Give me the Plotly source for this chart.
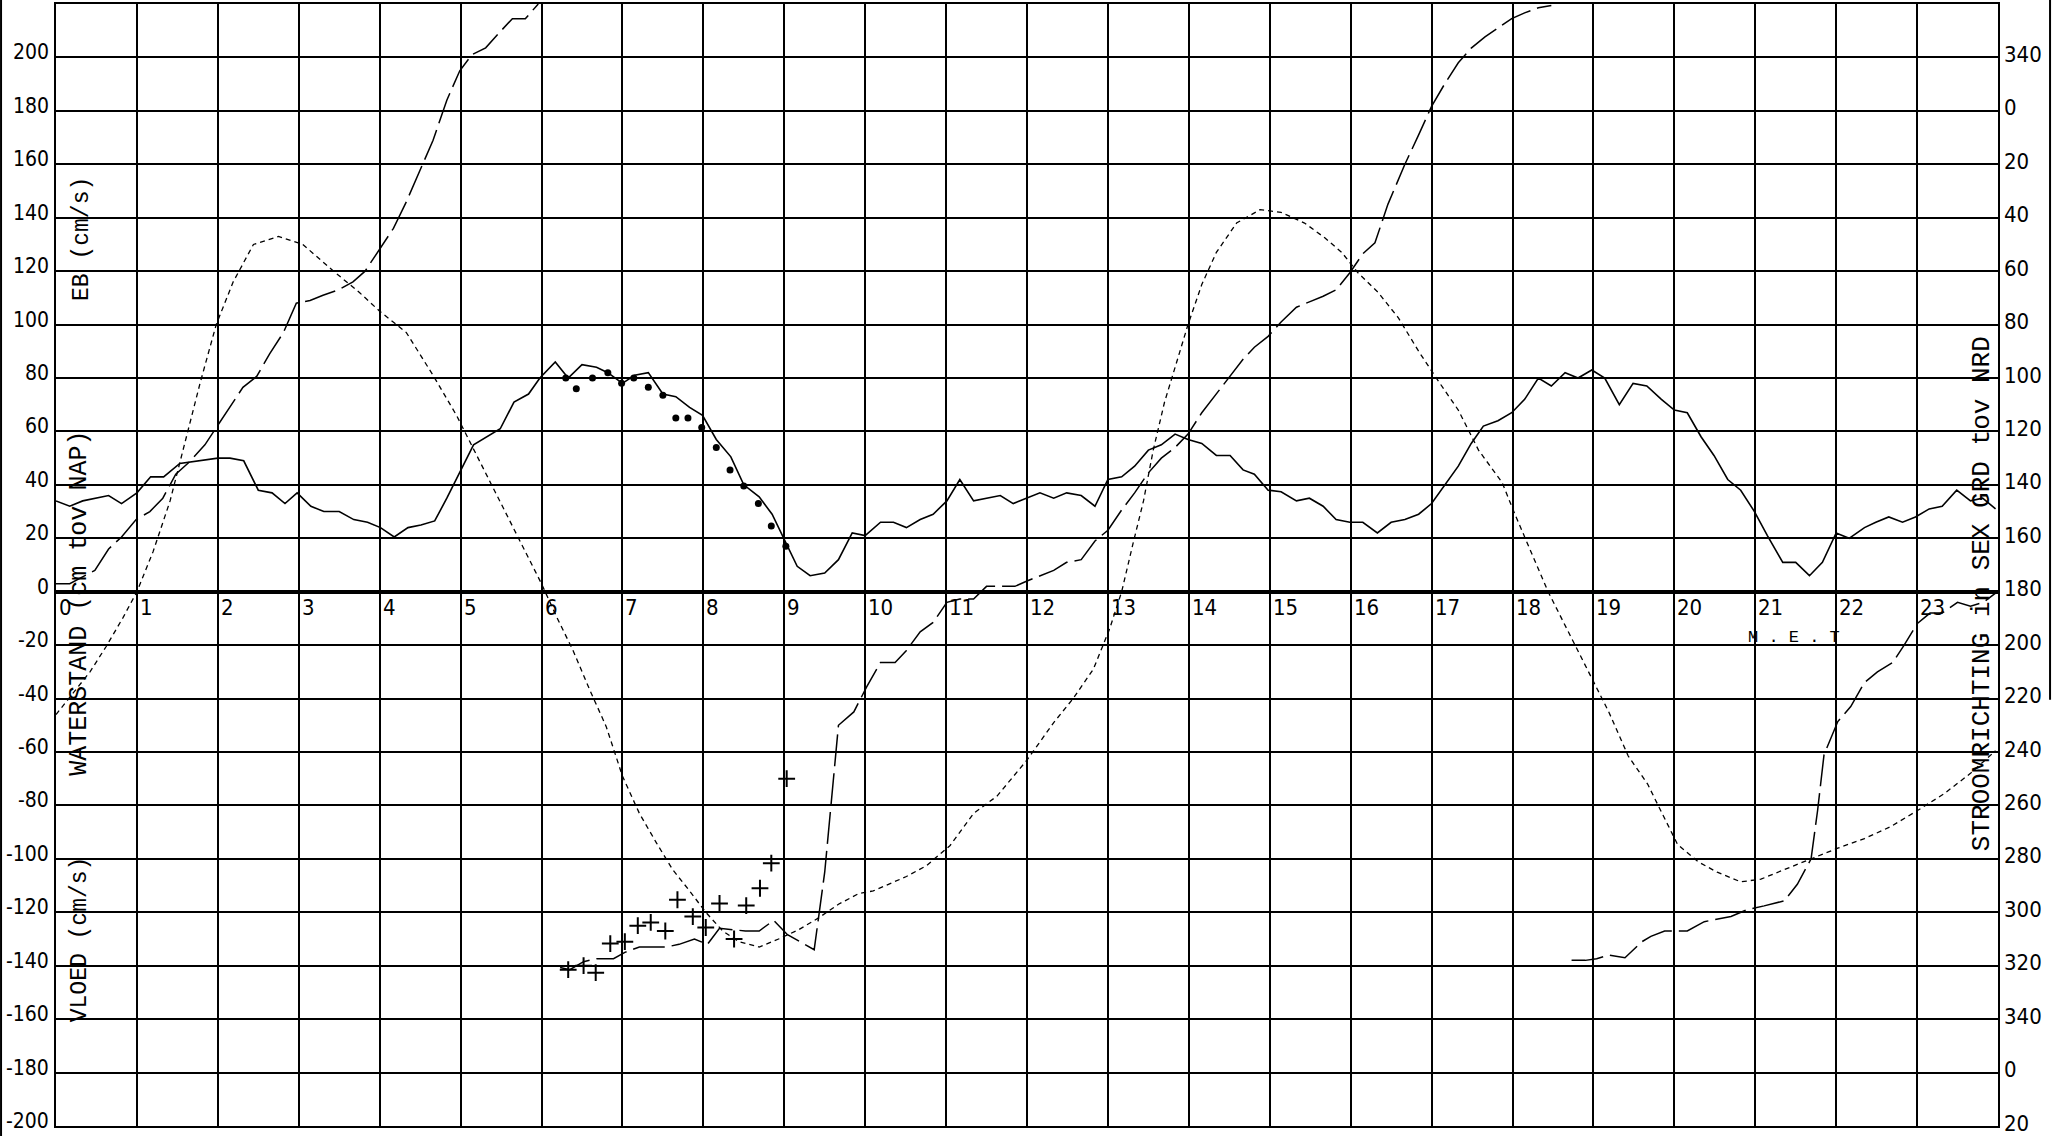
import plotly.graph_objects as go

# Waterstand (cm tov NAP), solid line
WATER_T = [0.0, 0.17, 0.33, 0.65, 0.81, 1.0, 1.17, 1.33, 1.53, 1.74, 2.0, 2.15, 2.32, 2.5, 2.67,
           2.83, 2.98, 3.15, 3.31, 3.5, 3.68, 3.85, 4.01, 4.18, 4.35, 4.51, 4.68, 4.83, 5.0, 5.16,
           5.49, 5.66, 5.84, 5.98, 6.17, 6.33, 6.5, 6.68, 6.82, 7.0, 7.15, 7.32, 7.5, 7.66, 7.83,
           7.99, 8.16, 8.34, 8.5, 8.69, 8.85, 9.02, 9.16, 9.32, 9.5, 9.67, 9.84, 10.0, 10.19, 10.35,
           10.51, 10.68, 10.84, 11.01, 11.17, 11.34, 11.5, 11.67, 11.83, 12.0, 12.16, 12.33, 12.49,
           12.67, 12.84, 13.0, 13.17, 13.33, 13.5, 13.66, 13.83, 13.99, 14.16, 14.34, 14.51, 14.67,
           14.81, 14.98, 15.14, 15.33, 15.49, 15.66, 15.82, 15.99, 16.15, 16.33, 16.5, 16.67, 16.84,
           17.0, 17.16, 17.33, 17.49, 17.64, 17.82, 17.99, 18.15, 18.32, 18.48, 18.65, 18.81, 18.98,
           19.14, 19.32, 19.49, 19.66, 19.84, 20.0, 20.16, 20.33, 20.49, 20.66, 20.82, 20.99, 21.15,
           21.34, 21.5, 21.67, 21.83, 22.0, 22.16, 22.35, 22.49, 22.65, 22.82, 22.98, 23.15, 23.31,
           23.49, 23.66, 23.81, 23.97]
WATER_V = [34, 32, 34, 36, 33, 37, 43, 43, 48, 49, 50, 50, 49, 38, 37,
           33, 37, 32, 30, 30, 27, 26, 24, 20.5, 24, 25, 26.5, 35, 45, 55,
           61, 71, 74, 80, 86, 80, 85, 84, 82, 78, 81, 82, 74, 73, 69,
           66, 57, 50.5, 40, 35.5, 29, 18, 9.5, 6, 7, 12, 22, 21, 26, 26,
           24, 27, 29, 34, 42, 34, 35, 36, 33, 35, 37, 35, 37,
           36, 32, 42, 43, 47, 53, 55, 59, 57, 55.5, 51, 51, 45.6,
           44, 38, 37.4, 34, 35, 32, 27, 26, 26, 22, 26, 27, 29,
           33, 40, 47, 55.5, 62, 64, 67, 72, 80, 77, 82, 80, 83,
           80, 70, 78, 77, 72, 68, 67, 58, 51, 42, 38, 30, 21,
           11, 11, 6, 11, 22, 20, 24, 26, 28, 26, 28, 31, 32,
           38, 34, 35, 31]

# Stroomsnelheid (EB positief, VLOED negatief), short-dashed line
VEL_T = [0.0, 0.21, 0.42, 0.62, 0.83, 1.0, 1.2, 1.41, 1.57, 1.78, 1.98, 2.19, 2.44, 2.75, 3.05,
         3.43, 3.75, 4.0, 4.33, 4.66, 4.95, 5.25, 5.49, 5.74, 6.0, 6.19, 6.39, 6.6, 6.8, 7.0,
         7.21, 7.42, 7.62, 7.83, 8.03, 8.24, 8.44, 8.69, 8.93, 9.18, 9.43, 9.67, 9.92, 10.1,
         10.51, 10.76, 11.05, 11.34, 11.63, 12.0, 12.33, 12.57, 12.82, 13.02, 13.17, 13.31,
         13.44, 13.56, 13.7, 13.85, 13.99, 14.16, 14.34, 14.59, 14.88, 15.14, 15.43, 15.68,
         15.89, 16.09, 16.34, 16.59, 16.84, 17.08, 17.33, 17.58, 17.87, 18.03, 18.24, 18.44,
         18.69, 18.94, 19.19, 19.43, 19.67, 19.8, 20.04, 20.29, 20.53, 20.82, 21.07, 21.36,
         21.69, 22.02, 22.35, 22.67, 23.0, 23.33, 23.66, 23.97]
VEL_V = [-46, -38, -30, -20.5, -9.6, 0, 15, 34, 53, 78, 100, 116, 130, 133, 130,
         120, 112, 105, 97, 81, 66, 48, 34, 19, 3, -9.6, -22, -37, -50.5, -69,
         -83, -94, -104, -112, -120, -127, -131, -133, -130, -126.5, -122, -117, -113, -112,
         -106.6, -102.5, -95, -83, -76.5, -63, -49, -40, -29, -14, 0, 18,
         34, 53, 71, 86, 100, 115, 127, 138, 143, 142, 138, 132.5,
         127, 119.4, 112, 102.5, 90, 79, 68, 53, 41, 29, 14, 0,
         -15, -30, -45, -61.5, -72, -80, -94.6, -101, -105, -108.6, -107.6, -104,
         -100, -96, -92.4, -88, -82, -75.7, -68, -59.5]

# Stroomrichting (graden tov noord) on the wrapped right-hand scale, None = wrap
DIR_T = [0.0, 0.17, 0.48, 0.65, 0.81, 0.99, 1.16, 1.32, 1.48, 1.65, 1.84, 1.98, 2.15, 2.31, 2.48,
         2.64, 2.81, 2.97, 3.14, 3.3, 3.49, 3.67, 3.82, 4.0, 4.17, 4.33, 4.5, 4.66, 4.83, 4.99,
         5.14, 5.31, 5.47, 5.64, 5.8, 5.96, 6.1,
         6.23, 6.35, 6.52, 6.68, 6.89, 7.03, 7.21, 7.38, 7.54, 7.7, 7.89, 8.05, 8.2, 8.36, 8.52,
         8.69, 8.87, 9.04, 9.2, 9.37, 9.5, 9.67, 9.86, 10.02, 10.19, 10.37, 10.51, 10.68, 10.84,
         11.01, 11.17, 11.34, 11.5, 11.67, 11.85, 12.0, 12.16, 12.33, 12.49, 12.67, 12.84, 13.0,
         13.17, 13.33, 13.5, 13.66, 13.83, 13.99, 14.16, 14.34, 14.51, 14.67, 14.81, 14.98, 15.14,
         15.33, 15.49, 15.66, 15.82, 15.99, 16.15, 16.3, 16.46, 16.67, 16.84, 17.0, 17.16, 17.33,
         17.49, 17.66, 17.82, 17.99, 18.15, 18.32, 18.48, 18.6,
         18.73, 18.9, 19.04, 19.19, 19.39, 19.6, 19.71, 19.88, 20.16, 20.37, 20.7, 20.9, 21.11,
         21.36, 21.52, 21.69, 21.77, 21.85, 22.02, 22.18, 22.35, 22.51, 22.7, 22.84, 23.0, 23.16,
         23.31, 23.5, 23.66, 23.82, 23.97]
DIR_V = [177, 177, 172, 164, 159.5, 153, 150, 145, 136, 131.4, 125, 118.5, 111, 103.5, 99.4,
         91, 83, 72, 71, 69, 67, 64, 60, 52, 44, 34, 22, 11, -4, -15,
         -21, -23.6, -29, -34.5, -34.5, -40, None,
         320.7, 321.5, 318.5, 317.4, 317.4, 315, 313, 313, 313, 312, 310, 312, 306, 306.5, 307,
         307, 303, 308.4, 311, 314, 285, 230, 225, 215.5, 206.5, 206.5, 202, 195, 191.5,
         184, 182.7, 182.7, 178, 178, 178, 176, 174, 172, 169, 168, 161, 157,
         149.4, 143, 135.5, 130, 126, 121, 113, 106, 99.4, 93, 88.5, 84.4, 79,
         73.5, 71.5, 69.4, 67, 60.6, 53.5, 49.4, 35, 20, 9, -1.7, -10, -18,
         -23.5, -27.7, -31, -34.5, -36.7, -38.6, -39.4, None,
         318, 318, 317.4, 316, 317, 311, 309, 307, 307, 303.5, 301.6, 299, 297.6,
         295.7, 289.5, 280, 262, 241, 228.6, 223, 214, 210, 206.5, 200, 192, 188,
         188, 184, 185.4, 184, 180.5]

# Gemeten punten
DOT_T = [6.3, 6.43, 6.63, 6.82, 6.99, 7.14, 7.32, 7.5, 7.66, 7.81, 7.98, 8.16, 8.33, 8.5, 8.68,
         8.84, 9.02]
DOT_V = [80, 76, 80, 82, 78, 80, 76.5, 73.5, 65, 65, 61.5, 54, 45.6, 39.6, 33, 24.6, 17]
PLUS_T = [6.33, 6.52, 6.67, 6.85, 7.03, 7.19, 7.35, 7.53, 7.68, 7.87, 8.03, 8.2, 8.38, 8.53,
          8.7, 8.84, 9.03]
PLUS_V = [-141.5, -140, -142.6, -131.7, -131, -125, -123.8, -127, -115.3, -121.6, -125.7,
          -116.7, -130, -117.5, -111, -101.6, -70]

HOURS = list(range(24))
LEFT_TICKS = list(range(-200, 201, 20))
RIGHT_TICKS = list(range(-20, 381, 20))
RIGHT_TEXT = [str(v % 360) for v in RIGHT_TICKS]

NUM_FONT = "Liberation Sans Narrow, DejaVu Sans Condensed, Arial Narrow, sans-serif"
TXT_FONT = "Liberation Mono, DejaVu Sans Mono, monospace"

fig = go.Figure()

fig.add_trace(go.Scatter(x=WATER_T, y=WATER_V, mode="lines",
                         line=dict(color="black", width=1.6), name="Waterstand"))
fig.add_trace(go.Scatter(x=VEL_T, y=VEL_V, mode="lines",
                         line=dict(color="black", width=1.3, dash="5px,4px"), name="Snelheid"))
fig.add_trace(go.Scatter(x=DIR_T, y=DIR_V, mode="lines", yaxis="y2", connectgaps=False,
                         line=dict(color="black", width=1.5, dash="32px,7px"), name="Richting"))
fig.add_trace(go.Scatter(x=DOT_T, y=DOT_V, mode="markers",
                         marker=dict(symbol="circle", size=7, color="black"), name="gemeten"))
fig.add_trace(go.Scatter(x=PLUS_T, y=PLUS_V, mode="markers",
                         marker=dict(symbol="cross-thin", size=12,
                                     line=dict(color="black", width=2)), name="gemeten"))

# Hour labels inside the plot, just under the zero line
annotations = [dict(x=h, y=0, text=str(h), showarrow=False, xanchor="left", yanchor="top",
                    xshift=1, yshift=-1, font=dict(family=NUM_FONT, size=22, color="black"))
               for h in HOURS]

# Left scale labels, sitting just above their grid lines
annotations += [dict(x=0, xref="paper", y=v, text=str(v), showarrow=False,
                     xanchor="right", yanchor="middle", xshift=-5, yshift=5,
                     font=dict(family=NUM_FONT, size=21, color="black"))
                for v in LEFT_TICKS]

# Right scale labels (stroomrichting, wraps at 360)
annotations += [dict(x=1, xref="paper", y=v, yref="y2", text=t, showarrow=False,
                     xanchor="left", yanchor="middle", xshift=4, yshift=3,
                     font=dict(family=NUM_FONT, size=22, color="black"))
                for v, t in zip(RIGHT_TICKS, RIGHT_TEXT)]

annotations += [
    dict(x=21.48, y=-17, text="M . E . T", showarrow=False,
         font=dict(family=TXT_FONT, size=17, color="black")),
    dict(x=0.29, y=-4.3, text="WATERSTAND (cm tov NAP)", textangle=-90, showarrow=False,
         font=dict(family=TXT_FONT, size=25, color="black")),
    dict(x=0.32, y=132, text="EB (cm/s)", textangle=-90, showarrow=False,
         font=dict(family=TXT_FONT, size=23, color="black")),
    dict(x=0.30, y=-130, text="VLOED (cm/s)", textangle=-90, showarrow=False,
         font=dict(family=TXT_FONT, size=23, color="black")),
    dict(x=23.8, y=-0.6, text="STROOMRICHTING in SEX GRD tov NRD", textangle=-90,
         showarrow=False, font=dict(family=TXT_FONT, size=26, color="black")),
]

# Edges of the scanned sheet
shapes = [
    dict(type="line", xref="paper", yref="paper", x0=-0.0283, x1=-0.0283, y0=-0.01, y1=1.01,
         line=dict(color="black", width=2)),
    dict(type="line", xref="paper", yref="paper", x0=1.0268, x1=1.0268, y0=0.38, y1=1.01,
         line=dict(color="black", width=2)),
]

fig.update_layout(
    width=2055, height=1136,
    margin=dict(l=56, r=57, t=4, b=10, autoexpand=False),
    paper_bgcolor="white", plot_bgcolor="white",
    showlegend=False,
    annotations=annotations,
    shapes=shapes,
    xaxis=dict(range=[0, 24], tickvals=list(range(25)), showticklabels=False, ticks="",
               automargin=False,
               showgrid=True, gridcolor="black", gridwidth=1.6,
               showline=True, linecolor="black", linewidth=2, mirror=True, zeroline=False),
    yaxis=dict(range=[-200, 220], tickvals=LEFT_TICKS, ticks="", showticklabels=False,
               automargin=False,
               showgrid=True, gridcolor="black", gridwidth=1.6,
               zeroline=True, zerolinecolor="black", zerolinewidth=3.5,
               showline=True, linecolor="black", linewidth=2, mirror=True),
    yaxis2=dict(range=[380, -40], overlaying="y", side="right", showticklabels=False,
                ticks="", showgrid=False, zeroline=False, automargin=False,
                showline=False),
)

fig.write_html("out.html", config={"displayModeBar": False},
               post_script="document.body.style.margin='0';"
                           "document.body.style.overflow='hidden';")
